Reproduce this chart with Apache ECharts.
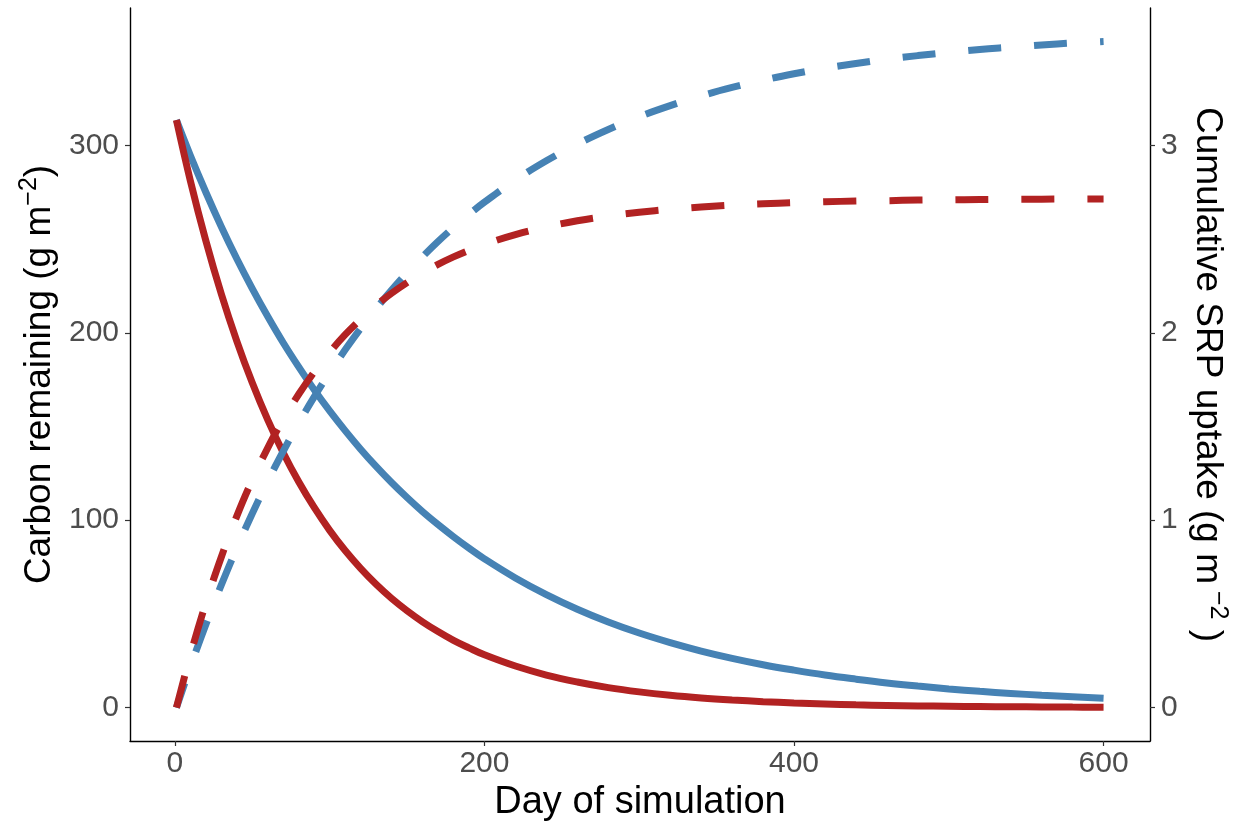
<!DOCTYPE html>
<html>
<head>
<meta charset="utf-8">
<script src="https://cdn.jsdelivr.net/npm/echarts@6/dist/echarts.min.js"></script>
<style>
html,body{margin:0;padding:0;background:#fff;}
#chart{width:1235px;height:823px;}
</style>
</head>
<body>
<div id="chart"></div>
<script>
// Day of simulation
const days = [1,10,20,30,40,50,60,70,80,90,100,110,120,130,140,150,160,170,180,190,200,
  220,240,260,280,300,320,340,360,380,400,420,440,460,480,500,520,540,560,580,600];
// Carbon remaining (g m-2), red treatment
const carbonRed = [313.5,281.1,249.1,220.7,195.6,173.3,153.5,136.0,120.5,106.8,94.6,83.8,74.3,65.8,58.3,51.7,45.8,40.6,35.9,31.9,28.2,
  22.2,17.4,13.7,10.7,8.4,6.6,5.2,4.1,3.2,2.5,2.0,1.5,1.2,0.9,0.75,0.6,0.47,0.38,0.28,0.22];
// Carbon remaining (g m-2), blue treatment
const carbonBlue = [313.5,294.6,275.0,256.6,239.5,223.6,208.7,194.7,181.8,169.6,158.3,147.8,137.9,128.7,120.1,112.1,104.6,97.7,91.2,85.1,79.4,
  69.2,60.3,52.5,45.7,39.8,34.7,30.2,26.3,22.9,20.0,17.4,15.2,13.2,11.5,10.0,8.7,7.6,6.6,5.8,5.0];
// Cumulative SRP uptake (g m-2), red treatment
const srpRed = [0,0.280,0.558,0.804,1.022,1.215,1.386,1.538,1.672,1.791,1.896,1.990,2.072,2.146,2.211,2.268,2.319,2.365,2.405,2.440,2.472,
  2.524,2.565,2.598,2.623,2.643,2.659,2.671,2.681,2.688,2.694,2.699,2.703,2.705,2.708,2.709,2.711,2.712,2.713,2.714,2.714];
// Cumulative SRP uptake (g m-2), blue treatment
const srpBlue = [0,0.217,0.444,0.655,0.852,1.036,1.208,1.368,1.518,1.658,1.788,1.909,2.023,2.129,2.228,2.320,2.406,2.487,2.562,2.632,2.697,
  2.815,2.918,3.007,3.085,3.153,3.212,3.264,3.309,3.348,3.382,3.412,3.437,3.460,3.479,3.496,3.512,3.524,3.536,3.546,3.554];
// Tick labels
const xTicks = [0,200,400,600];
const yLeftTicks = [0,100,200,300];
const yRightTicks = [0,1,2,3];

const RED = '#B22222', BLUE = '#4682B4';
const FONT = '"Liberation Sans", Arial, sans-serif';
const zip = (xs, ys) => xs.map((x, i) => [x, ys[i]]);

const chart = echarts.init(document.getElementById('chart'), null, {renderer: 'canvas'});
const axisLine = {show: true, onZero: false, lineStyle: {color: '#000', width: 1.4}};
const axisTick = (vals) => ({show: true, length: 5, customValues: vals, lineStyle: {color: '#333', width: 1.2}});
const axisLabel = (vals, margin) => ({customValues: vals, margin: margin, color: '#4D4D4D', fontSize: 30, fontFamily: FONT});
const titleRich = {
  t: {fontSize: 37, fontFamily: FONT, color: '#000', lineHeight: 46},
  s: {fontSize: 25, fontFamily: FONT, color: '#000', verticalAlign: 'top', lineHeight: 30}
};

chart.setOption({
  animation: false,
  backgroundColor: '#fff',
  grid: {left: 130, right: 85, top: 8, bottom: 82, containLabel: false, outerBoundsMode: 'none'},
  xAxis: {
    type: 'value', min: -29, max: 630,
    axisLine: axisLine, axisTick: axisTick(xTicks), axisLabel: axisLabel(xTicks, 8),
    splitLine: {show: false},
    name: 'Day of simulation', nameLocation: 'middle', nameGap: 36,
    nameTextStyle: {fontSize: 38, fontFamily: FONT, color: '#000'}
  },
  yAxis: [{
    type: 'value', min: -17.8, max: 373.3, position: 'left',
    axisLine: axisLine, axisTick: axisTick(yLeftTicks), axisLabel: axisLabel(yLeftTicks, 11),
    splitLine: {show: false},
    name: '{t|Carbon remaining (g m}{s|−2}{t|)}', nameLocation: 'middle', nameGap: 66, nameRotate: 90,
    nameTextStyle: {rich: titleRich}
  }, {
    type: 'value', min: -0.178, max: 3.733, position: 'right',
    axisLine: axisLine, axisTick: axisTick(yRightTicks), axisLabel: axisLabel(yRightTicks, 11),
    splitLine: {show: false},
    name: '{t|Cumulative SRP uptake (g m}{s| −2}{t| )}', nameLocation: 'middle', nameGap: 30, nameRotate: -90,
    nameTextStyle: {rich: titleRich}
  }],
  series: [
    {type: 'line', name: 'C blue', data: zip(days, carbonBlue), yAxisIndex: 0, showSymbol: false, smooth: 0.4,
      lineStyle: {color: BLUE, width: 7, cap: 'butt'}},
    {type: 'line', name: 'C red', data: zip(days, carbonRed), yAxisIndex: 0, showSymbol: false, smooth: 0.4,
      lineStyle: {color: RED, width: 7, cap: 'butt'}},
    {type: 'line', name: 'SRP blue', data: zip(days, srpBlue), yAxisIndex: 1, showSymbol: false, smooth: 0.4,
      lineStyle: {color: BLUE, width: 7, type: [33, 33], dashOffset: 7, cap: 'butt'}},
    {type: 'line', name: 'SRP red', data: zip(days, srpRed), yAxisIndex: 1, showSymbol: false, smooth: 0.4,
      lineStyle: {color: RED, width: 7, type: [33, 33], cap: 'butt'}}
  ]
});
</script>
</body>
</html>
